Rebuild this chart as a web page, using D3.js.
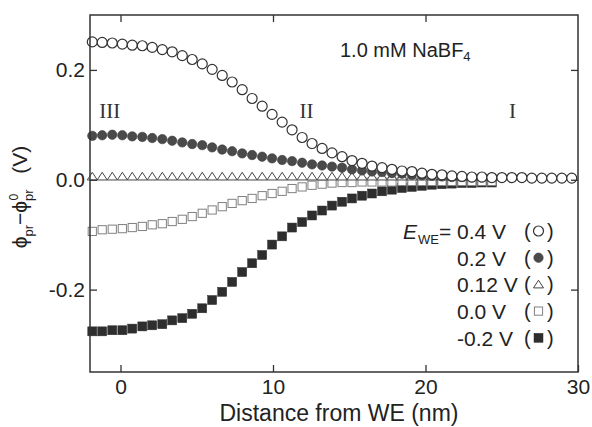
<!DOCTYPE html>
<html>
<head>
<meta charset="utf-8">
<script src="https://cdn.jsdelivr.net/npm/d3@7"></script>
<style>
  html, body { margin: 0; padding: 0; background: #fff; }
  svg { display: block; }
  text { font-family: "Liberation Sans", Arial, Helvetica, sans-serif; fill: #222; }
</style>
</head>
<body>
<div id="chart"></div>
<script>
// distance from working electrode (nm)
const distance = [-1.85, -1.2, -0.54, 0.12, 0.77, 1.43, 2.08, 2.74, 3.39, 4.05,
    4.70, 5.36, 6.01, 6.67, 7.32, 7.98, 8.63, 9.29, 9.94, 10.6,
    11.25, 11.91, 12.56, 13.22, 13.87, 14.53, 15.18, 15.84, 16.49, 17.15,
    17.80, 18.46, 19.11, 19.77, 20.42, 21.08, 21.73, 22.39, 23.04, 23.7,
    24.35, 25.01, 25.66, 26.32, 26.97, 27.63, 28.28, 28.94, 29.59];

// phi_pr - phi_pr^0 (V) for each E_WE
const phi040 = [0.251, 0.250, 0.249, 0.247, 0.245, 0.244, 0.241, 0.237, 0.233, 0.226,
    0.219, 0.211, 0.201, 0.190, 0.178, 0.164, 0.148, 0.134, 0.119, 0.105,
    0.091, 0.077, 0.066, 0.057, 0.049, 0.042, 0.035, 0.030, 0.025, 0.022,
    0.019, 0.016, 0.015, 0.012, 0.010, 0.009, 0.007, 0.006, 0.005, 0.005,
    0.004, 0.004, 0.004, 0.004, 0.003, 0.003, 0.003, 0.003, 0.003];
const phi020 = [0.080, 0.081, 0.082, 0.081, 0.079, 0.078, 0.076, 0.074, 0.071, 0.068,
    0.065, 0.063, 0.059, 0.055, 0.052, 0.048, 0.045, 0.042, 0.039, 0.036,
    0.034, 0.031, 0.028, 0.026, 0.024, 0.022, 0.019, 0.017, 0.015, 0.014,
    0.012, 0.011, 0.009, 0.008, 0.007, 0.006, 0.005, 0.005, 0.004, 0.004, 0.004];
const phi012 = [0.006, 0.006, 0.006, 0.006, 0.006, 0.006, 0.006, 0.006, 0.006, 0.006,
    0.006, 0.006, 0.006, 0.006, 0.006, 0.006, 0.006, 0.006, 0.006, 0.006,
    0.006, 0.006, 0.006, 0.006, 0.006, 0.006, 0.006, 0.006, 0.006, 0.006,
    0.006, 0.006, 0.006, 0.006, 0.006, 0.006, 0.006, 0.006, 0.006, 0.006, 0.006];
const phi000 = [-0.094, -0.091, -0.090, -0.089, -0.087, -0.085, -0.082, -0.080, -0.076, -0.072,
    -0.067, -0.061, -0.055, -0.049, -0.043, -0.038, -0.034, -0.029, -0.025, -0.021,
    -0.016, -0.013, -0.010, -0.008, -0.006, -0.005, -0.005, -0.004, -0.004, -0.004,
    -0.004, -0.003, -0.003, -0.003, -0.003, -0.003, -0.003, -0.003, -0.003, -0.003, -0.003];
const phiM020 = [-0.276, -0.276, -0.274, -0.274, -0.271, -0.267, -0.265, -0.263, -0.256, -0.252,
    -0.244, -0.234, -0.219, -0.204, -0.186, -0.168, -0.152, -0.137, -0.118, -0.103,
    -0.087, -0.077, -0.065, -0.056, -0.047, -0.040, -0.034, -0.029, -0.025, -0.021,
    -0.018, -0.015, -0.013, -0.011, -0.009, -0.008, -0.007, -0.006, -0.006, -0.005, -0.005];

const legendLabels = ['0.4 V', '0.2 V', '0.12 V', '0.0 V', '-0.2 V'];
const xTicks = [0, 10, 20, 30];
const yTicks = [-0.2, 0.0, 0.2];
const romans = ['III', 'II', 'I'];
const romanPos = [-0.7, 12.2, 25.7];

const width = 592, height = 427;
const margin = {top: 15, right: 14, bottom: 55, left: 90};

const svg = d3.select('#chart').append('svg')
    .attr('width', width)
    .attr('height', height);

const x = d3.scaleLinear().domain([-2, 30]).range([margin.left, width - margin.right]);
const y = d3.scaleLinear().domain([-0.35, 0.3]).range([height - margin.bottom, margin.top]);

// series, in draw order (first drawn ends up at the bottom)
const series = [
    {values: phiM020, shape: 'square', fill: '#2e2e2e', stroke: '#2e2e2e', legendRow: 4},
    {values: phi000, shape: 'square', fill: '#fff', stroke: '#808080', legendRow: 3},
    {values: phi012, shape: 'triangle', fill: '#fff', stroke: '#444', legendRow: 2},
    {values: phi020, shape: 'dot', fill: '#4a4a4a', stroke: '#3c3c3c', legendRow: 1},
    {values: phi040, shape: 'circle', fill: '#fff', stroke: '#333', legendRow: 0}
];

function drawMarker(sel, s) {
    if (s.shape === 'circle') {
        sel.append('circle').attr('r', 5)
            .attr('fill', s.fill).attr('stroke', s.stroke).attr('stroke-width', 1.2);
    } else if (s.shape === 'dot') {
        sel.append('circle').attr('r', 4.7)
            .attr('fill', s.fill).attr('stroke', s.stroke).attr('stroke-width', 0.6);
    } else if (s.shape === 'triangle') {
        sel.append('path').attr('d', 'M-5,3.5L0,-4.2L5,3.5Z')
            .attr('fill', s.fill).attr('stroke', s.stroke).attr('stroke-width', 1);
    } else {
        const open = s.fill === '#fff';
        const half = open ? 4.1 : 4.5;
        sel.append('rect').attr('x', -half).attr('y', -half)
            .attr('width', half * 2).attr('height', half * 2)
            .attr('fill', s.fill).attr('stroke', s.stroke).attr('stroke-width', open ? 1 : 0.5);
    }
}

const plot = svg.append('g');
series.forEach(s => {
    const pts = s.values.map((v, i) => ({x: distance[i], y: v}));
    plot.append('g').selectAll('g')
        .data(pts)
        .enter()
        .append('g')
        .attr('transform', d => `translate(${x(d.x)},${y(d.y)})`)
        .each(function () { drawMarker(d3.select(this), s); });
});

// axes, ticks point inward
svg.append('g')
    .attr('transform', `translate(0,${height - margin.bottom})`)
    .call(d3.axisBottom(x).tickValues(xTicks).tickSizeInner(-7).tickSizeOuter(0).tickPadding(7)
        .tickFormat(d => String(d)))
    .call(g => g.select('.domain').remove())
    .call(g => g.selectAll('text').attr('font-size', 21).attr('font-family', null))
    .call(g => g.selectAll('line').attr('stroke', '#333').attr('stroke-width', 1.3));

svg.append('g')
    .attr('transform', `translate(${margin.left},0)`)
    .call(d3.axisLeft(y).tickValues(yTicks).tickSizeInner(-7).tickSizeOuter(0).tickPadding(5)
        .tickFormat(d => d.toFixed(1)))
    .call(g => g.select('.domain').remove())
    .call(g => g.selectAll('text').attr('font-size', 21).attr('font-family', null))
    .call(g => g.selectAll('line').attr('stroke', '#333').attr('stroke-width', 1.3));

svg.append('g')
    .attr('transform', `translate(0,${margin.top})`)
    .call(d3.axisTop(x).tickValues(xTicks.slice(0, 3)).tickSizeInner(-7).tickSizeOuter(0).tickFormat(''))
    .call(g => g.select('.domain').remove())
    .call(g => g.selectAll('line').attr('stroke', '#333').attr('stroke-width', 1.3));

svg.append('g')
    .attr('transform', `translate(${width - margin.right},0)`)
    .call(d3.axisRight(y).tickValues(yTicks).tickSizeInner(-7).tickSizeOuter(0).tickFormat(''))
    .call(g => g.select('.domain').remove())
    .call(g => g.selectAll('line').attr('stroke', '#333').attr('stroke-width', 1.3));

// frame
svg.append('rect')
    .attr('x', margin.left).attr('y', margin.top)
    .attr('width', width - margin.left - margin.right)
    .attr('height', height - margin.top - margin.bottom)
    .attr('fill', 'none').attr('stroke', '#333').attr('stroke-width', 1.5);

// x axis title
svg.append('text')
    .attr('x', (margin.left + width - margin.right) / 2 + 5)
    .attr('y', 421)
    .attr('text-anchor', 'middle')
    .attr('font-size', 23)
    .text('Distance from WE (nm)');

// y axis title
const yTitle = svg.append('text')
    .attr('transform', 'translate(27,197) rotate(-90)')
    .attr('text-anchor', 'middle')
    .attr('font-size', 21);
yTitle.append('tspan').text('\u03D5');
yTitle.append('tspan').attr('font-size', 13).attr('dy', 6).text('pr');
yTitle.append('tspan').attr('dy', -6).text('\u2212');
yTitle.append('tspan').text('\u03D5');
yTitle.append('tspan').attr('font-size', 13).attr('dy', 6).text('pr');
yTitle.append('tspan').attr('font-size', 12).attr('dx', -11).attr('dy', -15).text('0');
yTitle.append('tspan').attr('dx', 20).attr('dy', 9).text('(V)');

// condition label
const cond = svg.append('text').attr('x', 340).attr('y', 57).attr('font-size', 20);
cond.append('tspan').text('1.0 mM NaBF');
cond.append('tspan').attr('font-size', 13).attr('dy', 4).text('4');

// region numerals
svg.selectAll('.roman')
    .data(romans)
    .enter()
    .append('text')
    .attr('class', 'roman')
    .attr('x', (d, i) => x(romanPos[i]))
    .attr('y', 118)
    .attr('text-anchor', 'middle')
    .attr('font-size', 21)
    .style('font-family', '"Liberation Serif", "Times New Roman", serif')
    .style('fill', '#333')
    .text(d => d);

// legend
const rowY = i => 231.5 + i * 26.7;
const ewe = svg.append('text').attr('x', 403).attr('y', rowY(0) + 7.5).attr('font-size', 21);
ewe.append('tspan').attr('font-style', 'italic').text('E');
ewe.append('tspan').attr('font-size', 13).attr('dy', 5).attr('dx', 1).text('WE');
ewe.append('tspan').attr('dy', -5).text('=');

series.forEach(s => {
    const r = s.legendRow;
    const row = svg.append('g').attr('transform', `translate(0,${rowY(r)})`);
    row.append('text').attr('x', 457).attr('y', 7.5).attr('font-size', 21).text(legendLabels[r]);
    row.append('text').attr('x', 524).attr('y', 6.5).attr('font-size', 20).text('(');
    row.append('text').attr('x', 547).attr('y', 6.5).attr('font-size', 20).text(')');
    const m = row.append('g').attr('transform', 'translate(538.5,-0.5)');
    drawMarker(m, s);
});
</script>
</body>
</html>
